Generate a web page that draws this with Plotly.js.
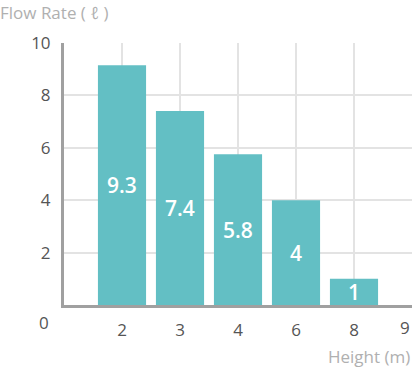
<!DOCTYPE html>
<html>
<head>
<meta charset="utf-8">
<script src="https://cdn.plot.ly/plotly-3.0.1.min.js"></script>
<style>
html,body{margin:0;padding:0;background:#fff;}
#chart{width:413px;height:370px;}
</style>
</head>
<body>
<div id="chart"></div>
<script>
var categories = ['2', '3', '4', '6', '8', '9'];
var barHeights = [9.15, 7.4, 5.75, 4, 1, null];
var barLabels = ['9.3', '7.4', '5.8', '4', '1', ''];
var yTickValues = [2, 4, 6, 8, 10];

var FONT = '"Open Sans", "Noto Sans", sans-serif';
var lastCat = categories[categories.length - 1];
var tickLabels = categories.map(function (c, i) { return i === categories.length - 1 ? '' : c; });

var trace = {
  type: 'bar',
  x: categories,
  y: barHeights,
  text: barLabels,
  textposition: 'inside',
  insidetextanchor: 'middle',
  constraintext: 'none',
  textangle: 0,
  textfont: {family: FONT, size: 21, color: '#ffffff', weight: 600},
  marker: {color: '#63bfc4'},
  hoverinfo: 'none',
  cliponaxis: false
};

var layout = {
  width: 413,
  height: 370,
  margin: {l: 64, r: 1, t: 43, b: 65, pad: 0},
  paper_bgcolor: '#ffffff',
  plot_bgcolor: '#ffffff',
  showlegend: false,
  bargap: 0.17,
  font: {family: FONT, size: 17, color: '#555555'},
  title: {
    text: 'Flow Rate ( ℓ )',
    font: {family: FONT, size: 17, color: '#b0b0b0'},
    x: 0, xref: 'container', xanchor: 'left',
    y: 0.966, yref: 'container', yanchor: 'middle'
  },
  xaxis: {
    type: 'category',
    categoryorder: 'array',
    categoryarray: categories,
    tickvals: categories,
    ticktext: tickLabels,
    range: [-1, 5],
    showgrid: true,
    gridcolor: '#e3e3e3',
    gridwidth: 2,
    showline: true,
    linecolor: '#a0a0a0',
    linewidth: 3,
    ticks: 'outside',
    ticklen: 8,
    tickcolor: 'rgba(0,0,0,0)',
    tickfont: {family: FONT, size: 17, color: '#555555'},
    zeroline: false,
    fixedrange: true
  },
  yaxis: {
    range: [0, 10],
    tickvals: yTickValues,
    showgrid: true,
    gridcolor: '#e3e3e3',
    gridwidth: 2,
    showline: true,
    linecolor: '#a0a0a0',
    linewidth: 3,
    ticks: 'outside',
    ticklen: 7,
    tickcolor: 'rgba(0,0,0,0)',
    tickfont: {family: FONT, size: 17, color: '#555555'},
    zeroline: false,
    fixedrange: true
  },
  annotations: [
    {
      text: '0', xref: 'paper', yref: 'paper',
      x: -0.057, y: -0.066, xanchor: 'center', yanchor: 'middle',
      showarrow: false, font: {family: FONT, size: 17, color: '#555555'}
    },
    {
      text: lastCat, xref: 'paper', yref: 'paper',
      x: 1, y: -0.085, xanchor: 'right', yanchor: 'middle',
      showarrow: false, font: {family: FONT, size: 17, color: '#555555'}
    },
    {
      text: 'Height (m)', xref: 'paper', yref: 'paper',
      x: 1, y: -0.198, xanchor: 'right', yanchor: 'middle',
      showarrow: false, font: {family: FONT, size: 17, color: '#b0b0b0'}
    }
  ]
};

Plotly.newPlot('chart', [trace], layout, {displayModeBar: false, staticPlot: true});
</script>
</body>
</html>
